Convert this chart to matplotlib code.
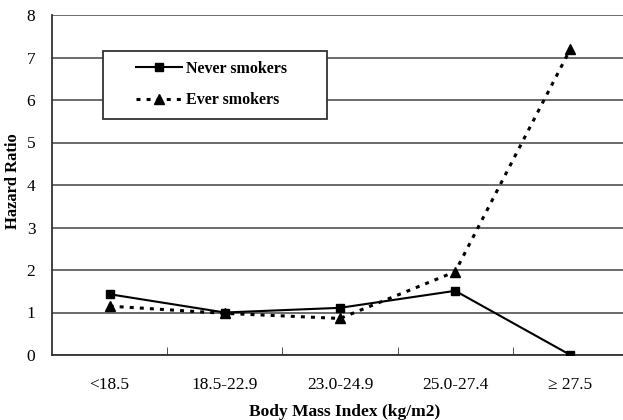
import matplotlib.pyplot as plt
from matplotlib.patches import Rectangle
import numpy as np

# Hazard ratio by BMI category
categories = ['<18.5', '18.5-22.9', '23.0-24.9', '25.0-27.4', '\u2265 27.5']
never_smokers = [1.43, 1.0, 1.11, 1.51, 0.0]
ever_smokers = [1.15, 0.98, 0.86, 1.96, 7.2]
yticks = [0, 1, 2, 3, 4, 5, 6, 7, 8]

plt.rcParams['font.family'] = ['Liberation Serif', 'DejaVu Serif']

W, H = 623, 420
L, B, R, T = 52, 355, 628, 15
fig = plt.figure(figsize=(W / 100, H / 100), dpi=100)
ax = fig.add_axes([L / W, 1 - B / H, (R - L) / W, (B - T) / H])


def ax_frac(px, py):
    # pixel position in the figure -> axes fraction
    return (px - L) / (R - L), (B - py) / (B - T)


x = np.arange(len(categories))
ax.plot(x, never_smokers, color='black', lw=1.5, marker='s', ms=6,
        label='Never smokers', zorder=3)
ax.plot(x, ever_smokers, color='black', lw=2.2, ls=(0, (1.3, 2.0)),
        marker='^', ms=7, label='Ever smokers', zorder=3)

ax.set_xlim(-0.5, len(categories) - 0.5)
ax.set_ylim(0, 8)
ax.set_yticks(yticks)
ax.yaxis.grid(True, color='#444444', lw=1.1)
ax.set_axisbelow(True)

# category labels centred, tick marks on the boundaries
ax.set_xticks(x)
ax.set_xticklabels(categories, fontsize=12.5)
ax.set_xticks(np.arange(0.5, len(categories) - 0.5), minor=True)
ax.tick_params(axis='x', which='major', length=0, pad=16)
ax.tick_params(axis='x', which='minor', direction='in', length=6, color='#333333')
ax.tick_params(axis='y', length=0, pad=12, labelsize=12.5)

for s in ['top', 'right']:
    ax.spines[s].set_visible(False)
for s in ['left', 'bottom']:
    ax.spines[s].set_color('#333333')
    ax.spines[s].set_linewidth(1.3)

ax.set_ylabel('Hazard Ratio', fontsize=12, fontweight='bold')
ax.yaxis.set_label_coords(ax_frac(21, 0)[0], ax_frac(0, 181)[1])
ax.set_xlabel('Body Mass Index (kg/m2)', fontsize=12.5, fontweight='bold')
ax.xaxis.set_label_coords(ax_frac(345, 0)[0], ax_frac(0, 404)[1])

# legend box
x0, y0 = ax_frac(103, 119)
x1, y1 = ax_frac(327, 51)
ax.add_patch(Rectangle((x0, y0), x1 - x0, y1 - y0, transform=ax.transAxes,
                       facecolor='white', edgecolor='#333333', lw=1.3, zorder=4))
lx, ly = ax_frac(136, 61)
leg = ax.legend(loc='upper left', bbox_to_anchor=(lx, ly), frameon=False,
                prop={'weight': 'bold', 'size': 11.5}, handlelength=2.9,
                handletextpad=0.25, borderpad=0, labelspacing=0.95,
                borderaxespad=0)
leg.set_zorder(5)

fig.savefig('out.png', dpi=100)
